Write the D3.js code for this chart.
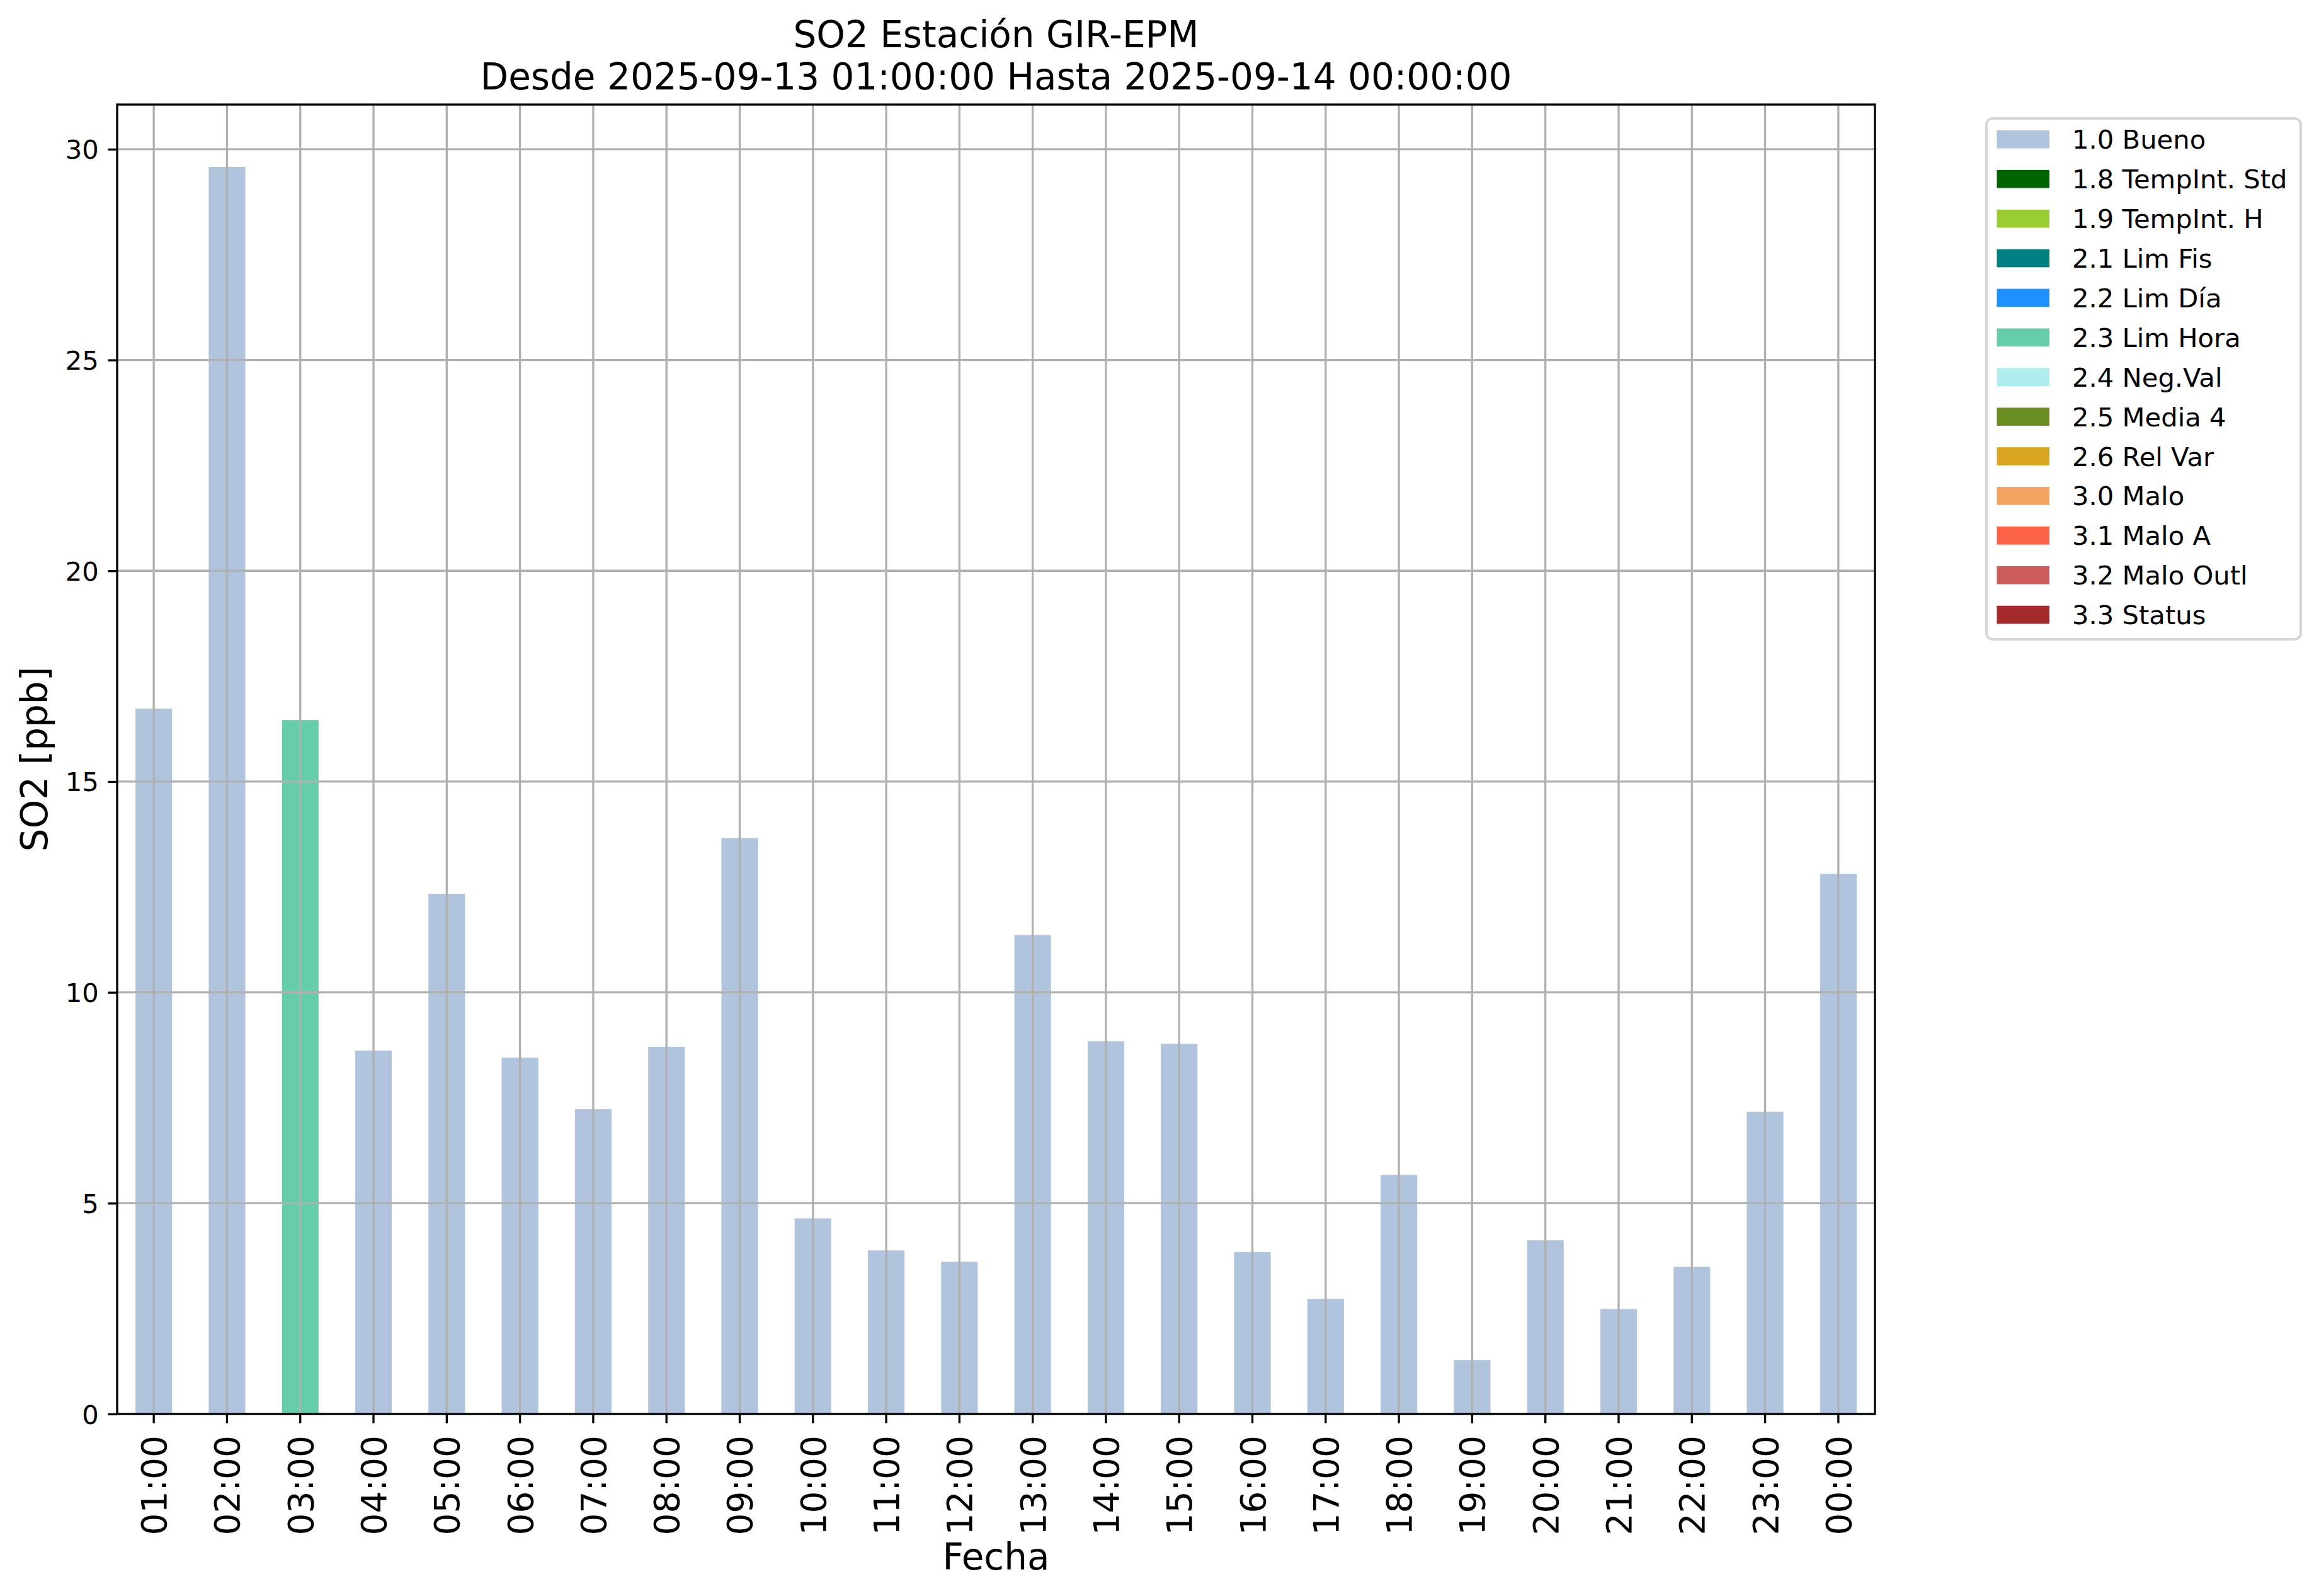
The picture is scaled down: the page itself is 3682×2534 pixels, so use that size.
<!DOCTYPE html>
<html>
<head>
<meta charset="utf-8">
<script src="https://cdn.jsdelivr.net/npm/d3@7"></script>
<style>
  html, body { margin: 0; padding: 0; background: #fff; }
  svg { display: block; }
  text { font-family: "DejaVu Sans", sans-serif; fill: #000; }
</style>
</head>
<body>
<script>
// ---- Data ----
const hours = ["01:00","02:00","03:00","04:00","05:00","06:00","07:00","08:00","09:00","10:00","11:00","12:00",
               "13:00","14:00","15:00","16:00","17:00","18:00","19:00","20:00","21:00","22:00","23:00","00:00"];
const so2 = [16.73, 29.58, 16.46, 8.62, 12.34, 8.45, 7.23, 8.71, 13.66, 4.64, 3.88, 3.61,
             11.36, 8.84, 8.78, 3.84, 2.73, 5.67, 1.28, 4.12, 2.49, 3.49, 7.17, 12.81];
const flags = ["1.0 Bueno","1.0 Bueno","2.3 Lim Hora","1.0 Bueno","1.0 Bueno","1.0 Bueno","1.0 Bueno","1.0 Bueno",
               "1.0 Bueno","1.0 Bueno","1.0 Bueno","1.0 Bueno","1.0 Bueno","1.0 Bueno","1.0 Bueno","1.0 Bueno",
               "1.0 Bueno","1.0 Bueno","1.0 Bueno","1.0 Bueno","1.0 Bueno","1.0 Bueno","1.0 Bueno","1.0 Bueno"];
const legendLabels = ["1.0 Bueno","1.8 TempInt. Std","1.9 TempInt. H","2.1 Lim Fis","2.2 Lim Día","2.3 Lim Hora",
                      "2.4 Neg.Val","2.5 Media 4","2.6 Rel Var","3.0 Malo","3.1 Malo A","3.2 Malo Outl","3.3 Status"];
const legendColors = ["#b0c4de","#006400","#9acd32","#008080","#1e90ff","#66cdaa",
                      "#afeeee","#6b8e23","#daa520","#f4a460","#ff6347","#cd5c5c","#a52a2a"];
const yTicks = [0, 5, 10, 15, 20, 25, 30];
const titleLines = ["SO2 Estación GIR-EPM", "Desde 2025-09-13 01:00:00 Hasta 2025-09-14 00:00:00"];

// ---- Layout ----
const W = 3682, H = 2534;
const L = 186, R = 2977, T = 166, B = 2245;
const gridColor = "#b0b0b0";
const lw = 3.33;

const svg = d3.select("body").append("svg").attr("width", W).attr("height", H);
svg.append("rect").attr("width", W).attr("height", H).attr("fill", "#fff");

const color = d3.scaleOrdinal().domain(legendLabels).range(legendColors);
const x = d3.scaleBand().domain(hours).range([L, R]).paddingInner(0.5).paddingOuter(0.25);
const y = d3.scaleLinear().domain([0, d3.max(so2) * 1.05]).range([B, T]);

// bars
svg.append("g").selectAll("rect").data(hours).join("rect")
  .attr("x", d => x(d))
  .attr("width", x.bandwidth())
  .attr("y", (d, i) => y(so2[i]))
  .attr("height", (d, i) => B - y(so2[i]))
  .attr("fill", (d, i) => color(flags[i]));

// grid (above bars, like matplotlib)
const grid = svg.append("g");
grid.selectAll("line.v").data(hours).join("line")
  .attr("x1", d => x(d) + x.bandwidth() / 2).attr("x2", d => x(d) + x.bandwidth() / 2)
  .attr("y1", T).attr("y2", B)
  .attr("stroke", gridColor).attr("stroke-width", lw);
grid.selectAll("line.h").data(yTicks).join("line")
  .attr("x1", L).attr("x2", R)
  .attr("y1", d => y(d)).attr("y2", d => y(d))
  .attr("stroke", gridColor).attr("stroke-width", lw);

// axes
const xAxis = svg.append("g").attr("transform", `translate(0,${B})`)
  .call(d3.axisBottom(x).tickSizeInner(14.6).tickSizeOuter(0).tickPadding(0));
xAxis.select(".domain").remove();
xAxis.selectAll(".tick line").attr("stroke", "#000").attr("stroke-width", lw);
xAxis.selectAll(".tick text")
  .attr("font-size", "55px")
  .attr("text-anchor", "end")
  .attr("transform", "translate(0,34) rotate(-90)")
  .attr("x", 0).attr("y", 0).attr("dy", "20px");

const yAxis = svg.append("g").attr("transform", `translate(${L},0)`)
  .call(d3.axisLeft(y).tickValues(yTicks).tickFormat(d3.format("d")).tickSizeInner(14.6).tickSizeOuter(0).tickPadding(14.6));
yAxis.select(".domain").remove();
yAxis.selectAll(".tick line").attr("stroke", "#000").attr("stroke-width", lw);
yAxis.selectAll(".tick text").attr("font-size", "41.7px").attr("dy", "0.36em");

// spines
svg.append("rect").attr("x", L).attr("y", T).attr("width", R - L).attr("height", B - T)
  .attr("fill", "none").attr("stroke", "#000").attr("stroke-width", lw);

// titles
svg.append("text").attr("x", (L + R) / 2).attr("y", 75).attr("text-anchor", "middle")
  .attr("font-size", "58px").text(titleLines[0]);
svg.append("text").attr("x", (L + R) / 2).attr("y", 142).attr("text-anchor", "middle")
  .attr("font-size", "58px").text(titleLines[1]);

svg.append("text").attr("x", (L + R) / 2).attr("y", 2492).attr("text-anchor", "middle")
  .attr("font-size", "58px").text("Fecha");
svg.append("text").attr("transform", `translate(75,${(T + B) / 2}) rotate(-90)`).attr("text-anchor", "middle")
  .attr("font-size", "58px").text("SO2 [ppb]");

// legend
const lg = svg.append("g");
lg.append("rect").attr("x", 3154).attr("y", 188).attr("width", 499).attr("height", 827)
  .attr("rx", 10).attr("ry", 10)
  .attr("fill", "#fff").attr("stroke", "#d6d6d6").attr("stroke-width", 4);
const rowH = 62.9, row0 = 221.3;
legendLabels.forEach((lab, i) => {
  const cy = row0 + i * rowH;
  lg.append("rect").attr("x", 3170.5).attr("y", cy - 14.35).attr("width", 83.5).attr("height", 28.7)
    .attr("fill", color(lab));
  lg.append("text").attr("x", 3290).attr("y", cy).attr("dy", "0.36em")
    .attr("font-size", "41.7px").text(lab);
});
</script>
</body>
</html>
